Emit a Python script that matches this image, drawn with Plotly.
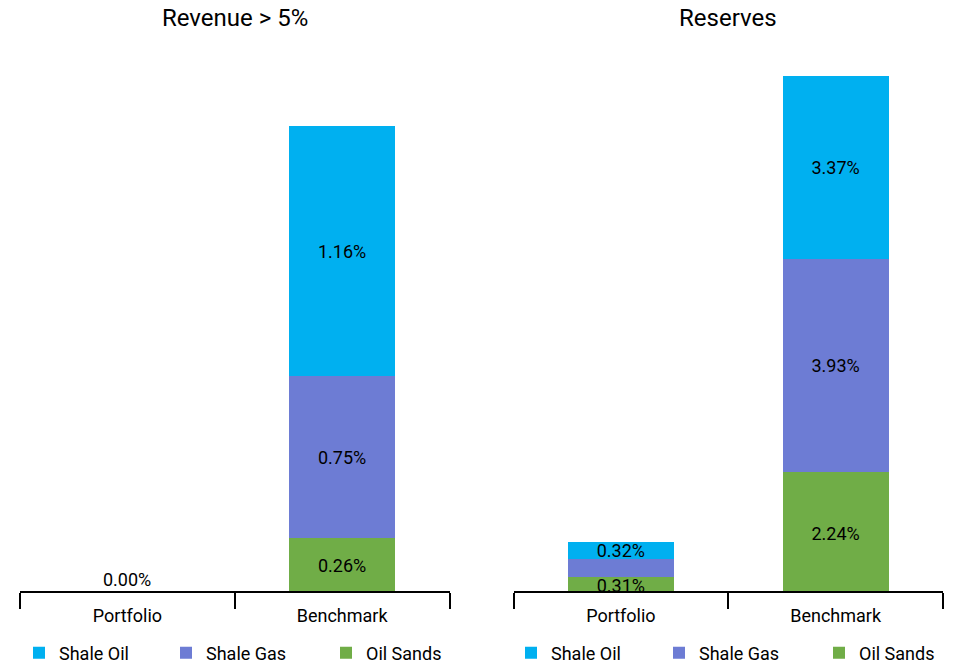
import plotly.graph_objects as go
from plotly.subplots import make_subplots

categories = ["Portfolio", "Benchmark"]
series_names = ["Oil Sands", "Shale Gas", "Shale Oil"]
legend_order = ["Shale Oil", "Shale Gas", "Oil Sands"]
colors = {"Shale Oil": "#00B0F0", "Shale Gas": "#6D7CD4", "Oil Sands": "#70AD47"}

revenue = {
    "Shale Oil": [0.00, 1.16],
    "Shale Gas": [0.00, 0.75],
    "Oil Sands": [0.00, 0.26],
}
reserves = {
    "Shale Oil": [0.32, 3.37],
    "Shale Gas": [0.33, 3.93],
    "Oil Sands": [0.31, 2.24],
}
# which labels are visible (label hidden where the original chart hid it)
revenue_show = {
    "Shale Oil": [False, True],
    "Shale Gas": [False, True],
    "Oil Sands": [False, True],
}
reserves_show = {
    "Shale Oil": [True, True],
    "Shale Gas": [False, True],
    "Oil Sands": [True, True],
}
titles = ["Revenue > 5%", "Reserves"]

W, H = 955, 666
ml, mr, mt, mb = 20, 12, 40, 75
pw = W - ml - mr
ph = H - mt - mb
FONT = "Roboto"

fig = make_subplots(rows=1, cols=2, horizontal_spacing=(513 - 449) / pw)

# pixel left edge of each legend item's square, per subplot
legend_square_left = [[33, 180, 340], [525, 673, 833]]
legend_y = -(653 - (H - mb)) / ph

layout_legends = {}
for col, (data, show) in enumerate([(revenue, revenue_show), (reserves, reserves_show)], start=1):
    for name in series_names:
        vals = data[name]
        texts = [f"{v:.2f}%" if s else "" for v, s in zip(vals, show[name])]
        idx = (col - 1) * 3 + legend_order.index(name)
        leg_key = "legend" if idx == 0 else f"legend{idx + 1}"
        fig.add_trace(
            go.Bar(
                x=categories,
                y=vals,
                name=name,
                marker=dict(color=colors[name], line=dict(width=0)),
                text=texts,
                textposition="inside",
                insidetextanchor="middle",
                textfont=dict(color="#000000", size=18, family=FONT),
                legend=leg_key,
                hoverinfo="skip",
            ),
            row=1,
            col=col,
        )
        sq = legend_square_left[col - 1][legend_order.index(name)]
        layout_legends[leg_key] = dict(
            orientation="h",
            x=(sq - 14 - ml) / pw,
            xanchor="left",
            y=legend_y,
            yanchor="middle",
            font=dict(size=18, family=FONT, color="#000000"),
            bgcolor="rgba(0,0,0,0)",
            itemclick=False,
            itemdoubleclick=False,
        )

fig.update_layout(
    width=W,
    height=H,
    barmode="stack",
    bargap=0.506,
    plot_bgcolor="white",
    paper_bgcolor="white",
    margin=dict(l=ml, r=mr, t=mt, b=mb, autoexpand=False),
    font=dict(family=FONT, size=18, color="#000000"),
    uniformtext=dict(minsize=18, mode="show"),
    showlegend=True,
    **layout_legends,
)

# y ranges: zero sits a few pixels below the axis line, as in the reference
rev_ppu = (594 - 126) / sum(v[1] for v in revenue.values())
res_ppu = (594 - 76) / sum(v[1] for v in reserves.values())
fig.update_yaxes(
    range=[3 / rev_ppu, (594 - mt) / rev_ppu], visible=False, showgrid=False, row=1, col=1
)
fig.update_yaxes(
    range=[3 / res_ppu, (594 - mt) / res_ppu], visible=False, showgrid=False, row=1, col=2
)
fig.update_xaxes(
    showline=True,
    linecolor="#000000",
    linewidth=2,
    ticks="outside",
    tickson="boundaries",
    ticklen=16,
    tickwidth=2,
    tickcolor="#000000",
    ticklabelstandoff=7,
    showgrid=False,
    tickfont=dict(size=18, family=FONT, color="#000000"),
    fixedrange=True,
)

# zero-total label for the empty Portfolio revenue stack
port_total = sum(v[0] for v in revenue.values())
if port_total == 0:
    fig.add_annotation(
        text=f"{port_total:.2f}%",
        x=categories[0],
        y=3 / rev_ppu,
        xref="x",
        yref="y",
        showarrow=False,
        yanchor="bottom",
        yshift=-1,
        font=dict(size=18, family=FONT, color="#000000"),
    )

for i, t in enumerate(titles):
    fig.add_annotation(
        text=t,
        xref=f"x{'' if i == 0 else i + 1} domain",
        yref="paper",
        x=0.5,
        y=1,
        yshift=22,
        showarrow=False,
        font=dict(size=24, family=FONT, color="#000000"),
        xanchor="center",
        yanchor="middle",
    )

fig.write_html(
    "out.html",
    config={"displayModeBar": False},
    post_script="document.body.style.margin='0';document.body.style.overflow='hidden';",
)
